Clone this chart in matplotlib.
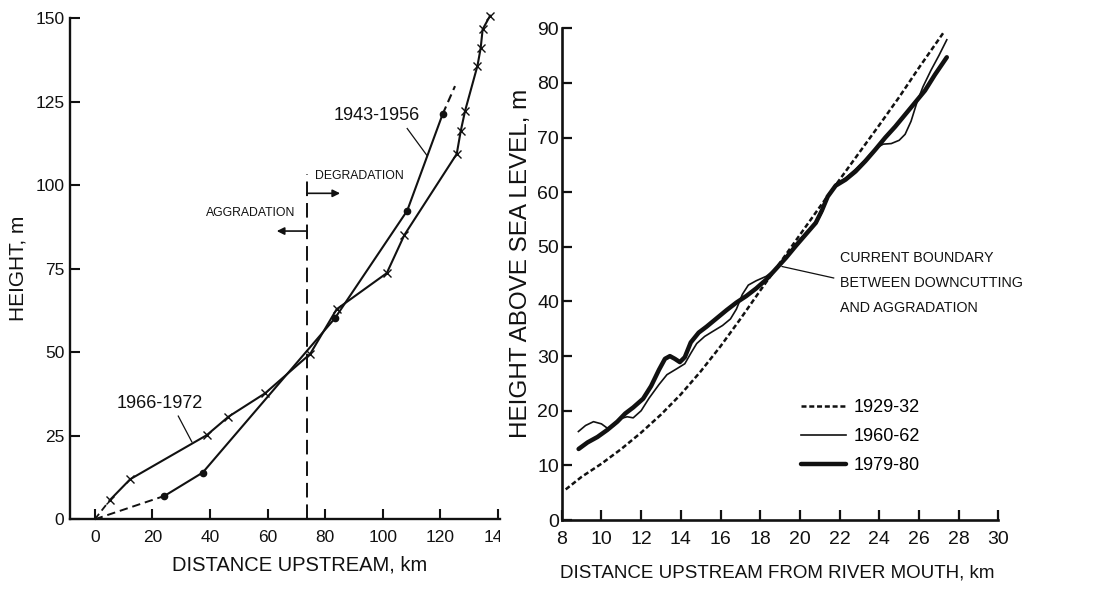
import matplotlib
matplotlib.use("Agg")
import matplotlib.pyplot as plt
from matplotlib.transforms import Bbox, TransformedBbox

plt.rcParams['font.family'] = ['Liberation Sans', 'DejaVu Sans']
plt.rcParams['lines.scale_dashes'] = False
INK = '#111111'

# ---------------- Left panel data ----------------
p1966_km = [0, 5.3, 12.3, 38.9, 46.4, 59.1, 74.8, 84.0, 101.4, 107.5, 125.7,
            127.1, 128.6, 132.9, 134.0, 134.7, 137.3]
p1966_m = [0, 5.8, 12.0, 25.2, 30.7, 37.7, 49.5, 62.9, 73.7, 85.1, 109.4,
           116.3, 122.3, 135.8, 141.0, 146.7, 150.8]
p1943_km = [0, 24.2, 37.5, 83.4, 108.5, 120.8, 125.1]
p1943_m = [0, 7.0, 14.0, 60.2, 92.4, 121.3, 129.7]
boundary_km = 73.7
left_xticks = [0, 20, 40, 60, 80, 100, 120, 140]
left_yticks = [0, 25, 50, 75, 100, 125, 150]

# ---------------- Right panel data ----------------
p1929_km = [8.2, 9.0, 10.0, 11.0, 12.0, 13.0, 14.0, 15.0, 16.0, 17.0, 18.0,
            19.0, 20.0, 21.0, 22.0, 23.0, 24.0, 25.0, 26.0, 27.25]
p1929_m = [5.6, 7.9, 10.3, 13.0, 16.0, 19.3, 23.0, 27.2, 31.8, 36.8, 42.0,
           47.1, 52.2, 57.3, 62.3, 67.3, 72.3, 77.4, 82.8, 89.3]
p1960_km = [8.84, 9.2, 9.6, 10.0, 10.3, 10.6, 11.0, 11.3, 11.6, 12.0, 12.4,
            12.9, 13.3, 13.8, 14.2, 14.5, 14.8, 15.2, 15.6, 16.1, 16.5, 16.8,
            17.1, 17.4, 17.8, 18.3, 18.8, 19.3, 19.8, 20.3, 20.8, 21.1, 21.4,
            21.8, 22.3, 22.8, 23.3, 23.8, 24.2, 24.6, 25.0, 25.3, 25.6, 25.9,
            26.2, 26.6, 27.0, 27.4]
p1960_m = [16.2, 17.3, 18.0, 17.6, 16.8, 17.2, 18.6, 18.9, 18.7, 20.0, 22.3,
           24.8, 26.6, 27.7, 28.6, 30.5, 32.3, 33.6, 34.5, 35.6, 36.8, 38.6,
           41.3, 43.0, 43.8, 44.6, 46.0, 48.2, 50.6, 52.6, 54.2, 56.2, 59.0,
           61.5, 62.6, 64.2, 66.0, 68.0, 68.8, 68.9, 69.5, 70.6, 73.0, 76.5,
           79.3, 82.3, 85.0, 87.9]
p1979_km = [8.85, 9.3, 9.8, 10.3, 10.8, 11.2, 11.6, 12.1, 12.5, 12.9, 13.2,
            13.45, 13.7, 13.95, 14.2, 14.5, 14.9, 15.3, 15.8, 16.3, 16.8, 17.3,
            17.8, 18.3, 18.8, 19.3, 19.8, 20.3, 20.8, 21.1, 21.4, 21.8, 22.3,
            22.8, 23.3, 23.8, 24.3, 24.8, 25.3, 25.8, 26.3, 26.8, 27.4]
p1979_m = [13.0, 14.2, 15.2, 16.5, 18.0, 19.5, 20.6, 22.2, 24.5, 27.5, 29.5,
           30.0, 29.5, 28.9, 29.8, 32.5, 34.3, 35.4, 36.9, 38.4, 39.8, 41.0,
           42.4, 44.0, 46.0, 48.0, 50.2, 52.3, 54.4, 56.6, 59.2, 61.2, 62.3,
           63.8, 65.7, 67.8, 70.0, 72.0, 74.2, 76.4, 78.6, 81.5, 84.7]
right_xticks = list(range(8, 31, 2))
right_yticks = list(range(0, 91, 10))
series_labels = ['1929-32', '1960-62', '1979-80']

fig = plt.figure(figsize=(10.98, 5.92), dpi=100)

# ================= LEFT PANEL =================
ax1 = fig.add_axes([0.06375, 0.1228, 0.3913, 0.8463])
ax1.set_xlim(-8.6, 140.6)
ax1.set_ylim(0, 150)
for s in ['top', 'right']:
    ax1.spines[s].set_visible(False)
for s in ['left', 'bottom']:
    ax1.spines[s].set_linewidth(1.7)
    ax1.spines[s].set_color(INK)
ax1.set_xticks(left_xticks)
ax1.set_yticks(left_yticks)
ax1.tick_params(axis='both', direction='in', length=7, width=1.5, colors=INK,
                labelsize=12.5)
ax1.tick_params(axis='x', pad=8)
ax1.tick_params(axis='y', pad=4)

# 1966-1972 (x markers)
ax1.plot(p1966_km[:2], p1966_m[:2], color=INK, lw=1.3, dashes=(5, 3),
         clip_on=False)
ax1.plot(p1966_km[1:], p1966_m[1:], color=INK, lw=1.5, marker='x', ms=6,
         mew=1.0, clip_on=False)
# 1943-1956 (dots)
ax1.plot(p1943_km[:2], p1943_m[:2], color=INK, lw=1.4, dashes=(6, 3.5),
         clip_on=False)
ax1.plot(p1943_km[1:-1], p1943_m[1:-1], color=INK, lw=1.5, marker='o', ms=4.5,
         clip_on=False)
ax1.plot(p1943_km[-2:], p1943_m[-2:], color=INK, lw=1.5, dashes=(6, 3.5),
         clip_on=False)

# boundary
ax1.plot([boundary_km, boundary_km], [0, 103.5], color=INK, lw=1.4,
         dashes=(10.5, 5))
ax1.annotate('', xy=(85.2, 97.6), xytext=(boundary_km, 97.6),
             arrowprops=dict(arrowstyle='-|>', lw=1.2, color=INK,
                             mutation_scale=11, shrinkA=0, shrinkB=0))
ax1.annotate('', xy=(63.2, 86.3), xytext=(boundary_km, 86.3),
             arrowprops=dict(arrowstyle='-|>', lw=1.2, color=INK,
                             mutation_scale=11, shrinkA=0, shrinkB=0))
ax1.text(76.5, 102.8, 'DEGRADATION', fontsize=8.8, ha='left', va='center',
         color=INK)
ax1.text(69.5, 91.8, 'AGGRADATION', fontsize=8.8, ha='right', va='center',
         color=INK)

ax1.text(97.9, 121, '1943-1956', fontsize=13, ha='center', va='center',
         color=INK)
ax1.plot([108.5, 115.3], [117.0, 109.0], color=INK, lw=0.9)
ax1.text(22.7, 34.7, '1966-1972', fontsize=13, ha='center', va='center',
         color=INK)
ax1.plot([29.0, 33.7], [30.9, 23.2], color=INK, lw=0.9)

ax1.set_xlabel('DISTANCE UPSTREAM, km', fontsize=14.5, color=INK, va='center')
ax1.xaxis.set_label_coords(0.534, -0.092)
ax1.set_ylabel('HEIGHT, m', fontsize=15, color=INK, va='center')
ax1.yaxis.set_label_coords(-0.122, 0.50)

clip = TransformedBbox(Bbox([[0, 0], [500 / 1098, 1]]), fig.transFigure)
for lbl in ax1.get_xticklabels():
    lbl.set_clip_on(True)
    lbl.set_clip_box(clip)

# ================= RIGHT PANEL =================
ax2 = fig.add_axes([0.5116, 0.1216, 0.3977, 0.8306])
ax2.set_xlim(8, 30)
ax2.set_ylim(0, 90)
for s in ['top', 'right']:
    ax2.spines[s].set_visible(False)
for s in ['left', 'bottom']:
    ax2.spines[s].set_linewidth(1.9)
    ax2.spines[s].set_color(INK)
ax2.set_xticks(right_xticks)
ax2.set_yticks(right_yticks)
ax2.tick_params(axis='both', direction='in', length=7.5, width=1.6,
                colors=INK, labelsize=14)
ax2.tick_params(axis='x', pad=8)
ax2.tick_params(axis='y', pad=2)

l1, = ax2.plot(p1929_km, p1929_m, color=INK, lw=1.8, dashes=(3.6, 2.0),
               label=series_labels[0])
l2, = ax2.plot(p1960_km, p1960_m, color=INK, lw=1.2, label=series_labels[1],
               solid_joinstyle='round')
l3, = ax2.plot(p1979_km, p1979_m, color=INK, lw=3.2, label=series_labels[2],
               solid_joinstyle='round', solid_capstyle='round')

leg = ax2.legend(handles=[l1, l2, l3], loc='upper left',
                 bbox_to_anchor=(0.548, 0.2457), frameon=False,
                 borderpad=0, borderaxespad=0, handlelength=2.5,
                 handletextpad=0.4, labelspacing=0.67,
                 prop={'size': 13})

ax2.text(22.0, 43.4, 'CURRENT BOUNDARY\nBETWEEN DOWNCUTTING\nAND AGGRADATION',
         fontsize=10.3, ha='left', va='center', linespacing=2.0, color=INK)
ax2.plot([19.1, 21.7], [46.4, 44.3], color=INK, lw=0.9)

ax2.set_xlabel('DISTANCE UPSTREAM FROM RIVER MOUTH, km', fontsize=13.5,
               color=INK, va='center')
ax2.xaxis.set_label_coords(0.494, -0.108)
ax2.set_ylabel('HEIGHT ABOVE SEA LEVEL, m', fontsize=17.5, color=INK,
               va='center')
ax2.yaxis.set_label_coords(-0.094, 0.522)

fig.savefig('out.png', dpi=100)
